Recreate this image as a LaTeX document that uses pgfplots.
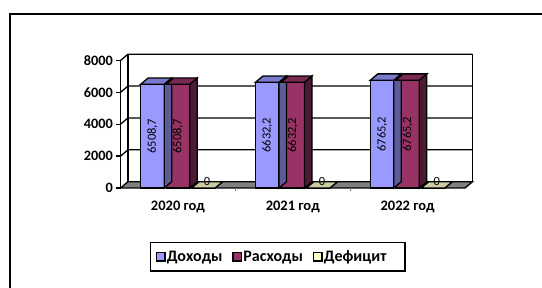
\documentclass[border=0pt]{standalone}
\usepackage{fontspec}
\setmainfont{Carlito}
\usepackage{pgfplots}
\usepackage{pgfplotstable}
\pgfplotsset{compat=1.18}

\definecolor{dohF}{HTML}{9999FF}
\definecolor{dohT}{HTML}{7A7ACC}
\definecolor{dohS}{HTML}{5C5C99}
\definecolor{rasF}{HTML}{993366}
\definecolor{rasT}{HTML}{7A2952}
\definecolor{rasS}{HTML}{4D1A33}
\definecolor{defF}{HTML}{FFFFCC}
\definecolor{defT}{HTML}{CCCCA3}
\definecolor{defS}{HTML}{999980}
\definecolor{floorC}{HTML}{808080}

\pgfplotstableread{
x doh ras def dohl rasl defl
0 6508.7 6508.7 0 6508,7 6508,7 0
1 6632.2 6632.2 0 6632,2 6632,2 0
2 6765.2 6765.2 0 6765,2 6765,2 0
}\datatable

\newcommand\hw{11.75}
\newcommand\ddx{7.5}
\newcommand\ddy{6.3}
\newcommand\barh{0}
\pgfdeclareplotmark{top3d}{%
  \pgfpathmoveto{\pgfpoint{-\hw pt}{0pt}}%
  \pgfpathlineto{\pgfpoint{\hw pt}{0pt}}%
  \pgfpathlineto{\pgfpoint{\hw pt+\ddx pt}{\ddy pt}}%
  \pgfpathlineto{\pgfpoint{-\hw pt+\ddx pt}{\ddy pt}}%
  \pgfpathclose
  \pgfusepathqfillstroke}
\pgfdeclareplotmark{side3d}{%
  \pgfpathmoveto{\pgfpoint{\hw pt}{0pt}}%
  \pgfpathlineto{\pgfpoint{\hw pt+\ddx pt}{\ddy pt}}%
  \pgfpathlineto{\pgfpoint{\hw pt+\ddx pt}{\ddy pt-\barh pt}}%
  \pgfpathlineto{\pgfpoint{\hw pt}{-\barh pt}}%
  \pgfpathclose
  \pgfusepathqfillstroke}

\pgfplotsset{
  front/.style={ybar, bar width=23.5pt, bar shift=0pt, draw=black, line width=1.3pt, fill=#1},
  side/.style 2 args={forget plot, only marks, scatter,
    scatter/@pre marker code/.code={}, scatter/@post marker code/.code={},
    visualization depends on={\thisrow{#2}*127.5/8000 \as \barh},
    mark=side3d, mark options={fill=#1, draw=black, line width=1.3pt}},
  top/.style={forget plot, only marks, mark=top3d, mark options={fill=#1, draw=black, line width=1.3pt}},
  lbl/.style={forget plot, draw=none, mark=none, nodes near coords, point meta=explicit symbolic,
    nodes near coords style={rotate=90, anchor=center, text=black, font=\fontsize{12.5}{12.5}\selectfont}},
}

\begin{document}
\begin{tikzpicture}
\path[use as bounding box] (0,0) rectangle (542pt,288pt);
\draw[line width=2pt] (10pt,0pt) -- (10pt,274.3pt) -- (542pt,274.3pt);
\begin{axis}[
  at={(120.5pt,100pt)}, anchor=south west,
  scale only axis, width=344.5pt, height=127.5pt,
  xmin=-0.5, xmax=2.5, ymin=0, ymax=8000,
  clip=false,
  axis line style={draw=none},
  ytick={0,2000,4000,6000,8000},
  ytick pos=left,
  tick align=outside, major tick length=4pt,
  ytick style={line width=1.3pt, black},
  xtick={0,1,2}, xticklabels={2020 год, 2021 год, 2022 год},
  xtick style={draw=none},
  /pgf/number format/assume math mode=true,
  /pgf/number format/1000 sep={},
  yticklabel style={font=\bfseries\fontsize{14.3}{14.3}\selectfont},
  xticklabel style={font=\bfseries\fontsize{14.5}{14.5}\selectfont, yshift=-5pt},
  legend columns=3,
  legend style={at={(0.4562,-0.5380)}, anchor=center, draw=black, line width=1.7pt,
    font=\bfseries\fontsize{16}{16}\selectfont, inner xsep=5.2pt, inner ysep=6pt,
    nodes={inner xsep=1pt, inner ysep=2pt},
    /tikz/column sep=0pt,
    /tikz/every even column/.style={column sep=0pt},
    /tikz/every odd column/.style={column sep=0pt}},
  legend image code/.code={\draw[#1, draw=black, line width=1.5pt] (0pt,-4.25pt) rectangle (8.5pt,4.25pt);},
]
% back wall and grid
\draw[line width=1.3pt] ([shift={(7.5pt,6.3pt)}]axis cs:-0.5,0) rectangle ([shift={(7.5pt,6.3pt)}]axis cs:2.5,8000);
\pgfplotsinvokeforeach{2000,4000,6000,8000}{
  \draw[line width=1.3pt] (axis cs:-0.5,#1) -- ([shift={(7.5pt,6.3pt)}]axis cs:-0.5,#1) -- ([shift={(7.5pt,6.3pt)}]axis cs:2.5,#1);
}
% floor
\filldraw[fill=floorC, draw=black, line width=1.3pt] (axis cs:-0.5,0) -- (axis cs:2.5,0) -- ([shift={(7.5pt,6.3pt)}]axis cs:2.5,0) -- ([shift={(7.5pt,6.3pt)}]axis cs:-0.5,0) -- cycle;
\draw[line width=1.3pt] (axis cs:-0.5,0) -- (axis cs:-0.5,8000);
\draw[gray, line width=0.8pt] (axis cs:0.5,0) -- ++(0pt,-3pt);
\draw[gray, line width=0.8pt] (axis cs:1.5,0) -- ++(0pt,-3pt);

% Доходы
\addplot[front=dohF] table[x expr=\thisrow{x}-0.2221, y=doh] \datatable;
\addlegendentry{Доходы\rule{9pt}{0pt}}
\addplot[side={dohS}{doh}] table[x expr=\thisrow{x}-0.2221, y=doh] \datatable;
\addplot[top=dohT] table[x expr=\thisrow{x}-0.2221, y=doh] \datatable;
% Расходы
\addplot[front=rasF] table[x=x, y=ras] \datatable;
\addlegendentry{Расходы\rule{9pt}{0pt}}
\addplot[side={rasS}{ras}] table[x=x, y=ras] \datatable;
\addplot[top=rasT] table[x=x, y=ras] \datatable;
% Дефицит
\addplot[front=defF] table[x expr=\thisrow{x}+0.2221, y=def] \datatable;
\addlegendentry{Дефицит\rule{12pt}{0pt}}
\addplot[side={defS}{def}] table[x expr=\thisrow{x}+0.2221, y=def] \datatable;
\addplot[top=defT] table[x expr=\thisrow{x}+0.2221, y=def] \datatable;
% labels
\addplot[lbl] table[x expr=\thisrow{x}-0.2221, y expr=\thisrow{doh}/2, meta=dohl] \datatable;
\addplot[lbl] table[x=x, y expr=\thisrow{ras}/2, meta=rasl] \datatable;
\addplot[forget plot, draw=none, mark=none, nodes near coords, point meta=explicit symbolic,
  nodes near coords style={anchor=center, xshift=3.7pt, yshift=6.3pt, text=black, font=\fontsize{12.5}{12.5}\selectfont}]
  table[x expr=\thisrow{x}+0.2221, y=def, meta=defl] \datatable;
\end{axis}
\end{tikzpicture}
\end{document}
